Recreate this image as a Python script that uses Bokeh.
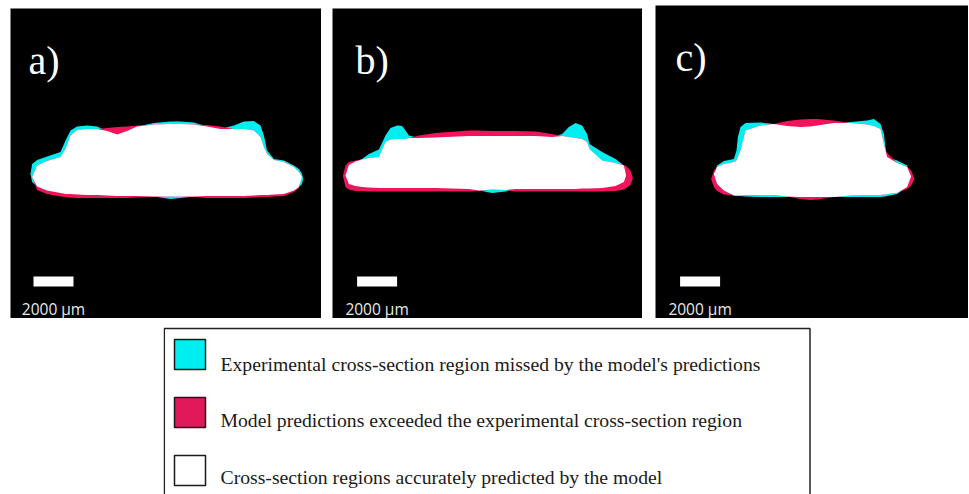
import numpy as np
from bokeh.plotting import figure
from bokeh.layouts import row, column, Spacer
from bokeh.models import Range1d, Label
from bokeh.core.properties import value
from bokeh.embed import file_html
from bokeh.resources import INLINE

nan = float("nan")

# ---------------- data (µm, measured from the micrographs) ----------------
PANEL_LABELS = ["a)", "b)", "c)"]
SCALE_BAR_UM = 2000
SCALE_BAR_TEXT = "2000 µm"

# Panel a: experimental / model cross-section profiles (top & bottom edge)
A_X = [1000, 1080, 1330, 1830, 2500, 2750, 3000, 3330, 3830, 4330, 4830, 5330,
       5830, 6330, 7170, 8000, 8500, 9170, 9830, 10500, 11170, 11670, 12170,
       12500, 12670, 12830, 13170, 13670, 14170, 14420, 14580, 14630]
A_EXP_TOP = [7230, 7730, 7930, 8100, 8320, 8900, 9400, 9600, 9650, 9600, 9370, 9200,
             9370, 9600, 9780, 9850, 9850, 9800, 9600, 9480, 9650, 9850, 9870,
             9650, 9150, 8400, 7980, 7900, 7650, 7480, 7230, 6980]
A_EXP_BOT = [7230, 6820, 6600, 6400, 6270, 6230, 6220, 6200, 6180, 6170, 6150, 6130,
             6130, 6130, 6100, 5980, 6030, 6100, 6120, 6120, 6130, 6130, 6150,
             6170, 6170, 6180, 6200, 6230, 6400, 6570, 6730, 6980]
A_MOD_TOP = [nan, 7070, 7650, 7870, 8070, 8480, 9150, 9430, 9480, 9480, 9530, 9570,
             9600, 9650, 9700, 9730, 9730, 9700, 9670, 9600, 9480, 9480, 9400,
             9070, 8570, 8230, 7930, 7820, 7570, 7320, 7070, nan]
A_MOD_BOT = [nan, 7070, 6430, 6230, 6100, 6070, 6050, 6030, 6030, 6030, 6020, 6020,
             6030, 6050, 6070, 6100, 6100, 6070, 6030, 6030, 6030, 6030, 6050,
             6070, 6070, 6080, 6100, 6130, 6320, 6530, 7070, nan]

# Panel b
B_X = [520, 650, 820, 1150, 1480, 1820, 2320, 2650, 2900, 3230, 3480, 3650, 3820,
       4320, 5150, 6820, 7320, 7980, 8650, 9150, 10150, 10980, 11480, 11820,
       12150, 12480, 12730, 12850, 13480, 14150, 14570, 14680, 14900, 15020]
B_EXP_TOP = [nan, 7150, 7680, 7850, 7980, 8230, 8450, 9150, 9520, 9650, 9620, 9400,
             9150, 9020, 9050, 9120, 9120, 9120, 9120, 9120, 9120, 9070, 9230,
             9570, 9780, 9650, 9230, 8730, 8320, 7980, 7650, 7150, nan, nan]
B_EXP_BOT = [nan, 7150, 6730, 6620, 6580, 6550, 6530, 6530, 6520, 6520, 6520, 6520,
             6520, 6520, 6520, 6480, 6400, 6280, 6350, 6480, 6480, 6480, 6480,
             6480, 6480, 6500, 6500, 6500, 6520, 6620, 6820, 7150, nan, nan]
B_MOD_TOP = [7120, 7650, 7820, 7900, 7950, 8020, 8070, 8820, 8950, 8980, 8980, 8980,
             9020, 9150, 9280, 9400, 9400, 9380, 9380, 9370, 9350, 9230, 9120,
             9070, 9020, 8980, 8820, 8480, 7900, 7780, 7680, 7620, 7400, 7020]
B_MOD_BOT = [7120, 6570, 6450, 6380, 6370, 6350, 6350, 6350, 6350, 6350, 6350, 6350,
             6350, 6350, 6350, 6350, 6380, 6450, 6420, 6350, 6350, 6350, 6350,
             6350, 6350, 6350, 6350, 6350, 6350, 6380, 6450, 6530, 6680, 7020]

# Panel c
C_X = [2780, 2920, 3080, 3420, 3920, 4050, 4120, 4250, 4500, 5250, 5920, 6580,
       7250, 7750, 8080, 8920, 9750, 10580, 10920, 11250, 11420, 11500, 11580,
       12080, 12580, 12780, 12950]
C_EXP_TOP = [nan, 7230, 7650, 7870, 7980, 8400, 9070, 9570, 9770, 9800, 9730, 9630,
             9570, 9600, 9650, 9770, 9820, 9900, 9980, 9730, 9230, 8570, 8070,
             7900, 7650, 7100, nan]
C_EXP_BOT = [nan, 7230, 6730, 6400, 6150, 6130, 6130, 6120, 6100, 6070, 6070, 6070,
             6080, 6080, 6080, 6070, 6070, 6070, 6080, 6080, 6100, 6100, 6120,
             6230, 6570, 7100, nan]
C_MOD_TOP = [6980, 7400, 7570, 7730, 7820, 7900, 8070, 8400, 9400, 9650, 9730, 9870,
             9950, 9980, 9980, 9900, 9770, 9700, 9630, 9480, 8730, 8400, 8270,
             7770, 7570, 7400, 6980]
C_MOD_BOT = [6980, 6570, 6370, 6200, 6150, 6150, 6150, 6150, 6170, 6170, 6170, 6100,
             5980, 5930, 5950, 6070, 6150, 6170, 6180, 6180, 6200, 6200, 6220,
             6270, 6480, 6650, 6980]

LEGEND_LABELS = [
    "Experimental cross-section region missed by the model's predictions",
    "Model predictions exceeded the experimental cross-section region",
    "Cross-section regions accurately predicted by the model",
]

# ---------------- styling ----------------
CYAN = "#00eef0"
RED = "#f0145a"
LEGEND_COLORS = ["#00eef0", "#e0195a", "#ffffff"]
UM_PER_PX = 50


def band(x, top, bot):
    x = np.asarray(x, float)
    top = np.asarray(top, float)
    bot = np.asarray(bot, float)
    m = ~(np.isnan(top) | np.isnan(bot))
    xs = np.concatenate([x[m], x[m][::-1]])
    ys = np.concatenate([top[m], bot[m][::-1]])
    return xs, ys


def make_panel(w, h, label, label_x, bar_left, x, et, eb, mt, mb):
    p = figure(width=w, height=h, output_backend="svg", toolbar_location=None,
               x_range=Range1d(0, w * UM_PER_PX), y_range=Range1d(0, h * UM_PER_PX),
               x_axis_location=None, y_axis_location=None, min_border=0,
               background_fill_color="black", border_fill_color="black",
               outline_line_color=None)
    p.grid.visible = False
    et, eb, mt, mb = (np.asarray(v, float) for v in (et, eb, mt, mb))
    xs, ys = band(x, et, eb)
    p.patch(xs, ys, fill_color=CYAN, line_color=None)
    xs, ys = band(x, mt, mb)
    p.patch(xs, ys, fill_color=RED, line_color=None)
    it = np.fmin(et, mt)
    ib = np.fmax(eb, mb)
    both = ~(np.isnan(et) | np.isnan(mt))
    it = np.where(both, it, nan)
    ib = np.where(both, ib, nan)
    mid = (it + ib) / 2
    bad = it < ib
    it = np.where(bad, mid, it)
    ib = np.where(bad, mid, ib)
    xs, ys = band(x, it, ib)
    p.patch(xs, ys, fill_color="white", line_color=None)

    # scale bar
    p.quad(left=[bar_left], right=[bar_left + SCALE_BAR_UM], bottom=[1600], top=[2100],
           fill_color="white", line_color=None)
    p.add_layout(Label(x=bar_left + SCALE_BAR_UM / 2, y=500, text=SCALE_BAR_TEXT,
                       text_align="center", text_baseline="alphabetic",
                       text_font="Open Sans", text_font_size="15.5px",
                       text_color="#e8e8e8"))

    p.add_layout(Label(x=label_x, y=h - 52, x_units="screen", y_units="screen",
                       text=label, text_font="Liberation Serif", text_font_size="40px",
                       text_color="white", text_baseline="alphabetic"))
    return p


pa = make_panel(311, 310, PANEL_LABELS[0], 18, 1150, A_X, A_EXP_TOP, A_EXP_BOT, A_MOD_TOP, A_MOD_BOT)
pb = make_panel(310, 310, PANEL_LABELS[1], 23, 1230, B_X, B_EXP_TOP, B_EXP_BOT, B_MOD_TOP, B_MOD_BOT)
pc = make_panel(313, 313, PANEL_LABELS[2], 20, 1230, C_X, C_EXP_TOP, C_EXP_BOT, C_MOD_TOP, C_MOD_BOT)

# ---------------- legend box ----------------
LW, LH = 648, 168
lg = figure(width=LW, height=LH, output_backend="svg", toolbar_location=None,
            x_range=Range1d(0, LW), y_range=Range1d(LH, 0),
            x_axis_location=None, y_axis_location=None, min_border=0,
            background_fill_color="white", border_fill_color="white",
            outline_line_color=None)
lg.grid.visible = False
lg.quad(left=[0.8], right=[646.5], top=[2], bottom=[LH + 50], fill_color=None,
        line_color="#222222", line_width=1.5)
n = len(LEGEND_LABELS)
sw_top = [13 + 58 * i for i in range(n)]
lg.quad(left=[11] * n, right=[42] * n, top=sw_top, bottom=[t + 30 for t in sw_top],
        fill_color=LEGEND_COLORS, line_color="#1a1a1a", line_width=1.5)
lg.text(x=[57] * n, y=[37 + 56.5 * i for i in range(n)], text=LEGEND_LABELS,
        text_font=value("Liberation Serif"), text_font_size="19.7px",
        text_color="#1a1a1a", text_baseline="alphabetic", text_align="left")

layout = column(
    Spacer(width=10, height=5),
    row(Spacer(width=10, height=313),
        column(Spacer(width=311, height=3), pa),
        Spacer(width=11, height=313),
        column(Spacer(width=310, height=3), pb),
        Spacer(width=13, height=313),
        pc),
    Spacer(width=10, height=8),
    row(Spacer(width=163, height=LH), lg),
)

open("out.html", "w").write(file_html(layout, INLINE))
